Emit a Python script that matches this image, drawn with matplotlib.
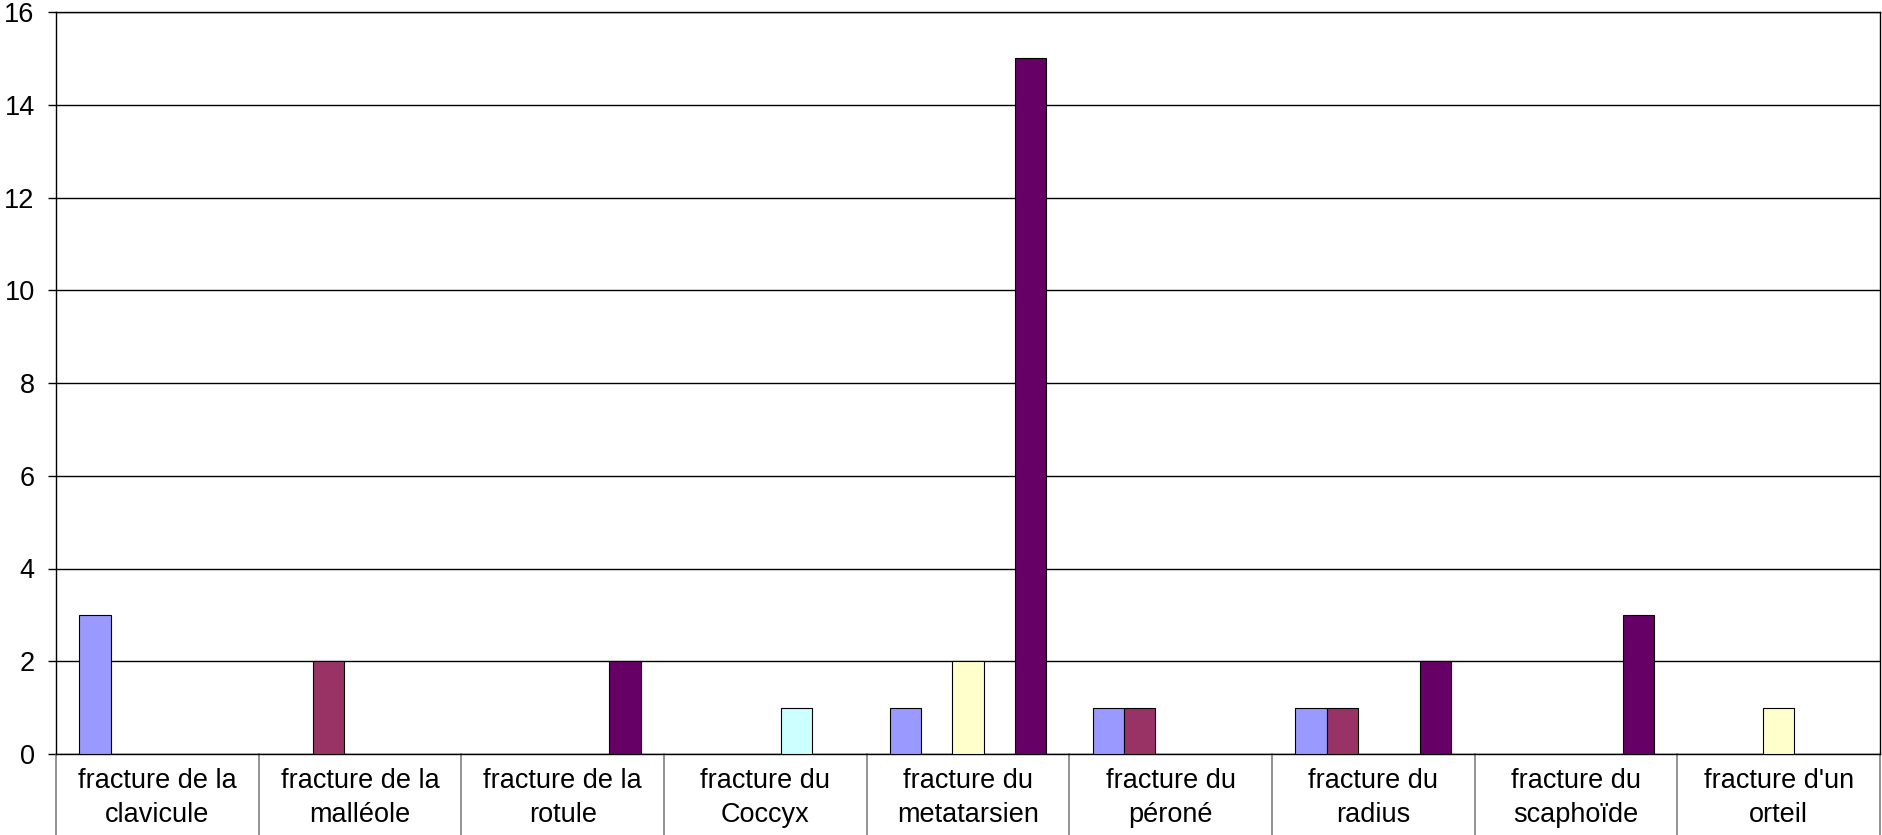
import matplotlib
matplotlib.use("Agg")
import matplotlib.pyplot as plt
import matplotlib.transforms as mtransforms
import numpy as np

plt.rcParams['font.family'] = ['Liberation Sans', 'DejaVu Sans']

categories = ["fracture de la\nclavicule", "fracture de la\nmalléole", "fracture de la\nrotule",
              "fracture du\nCoccyx", "fracture du\nmetatarsien", "fracture du\npéroné",
              "fracture du\nradius", "fracture du\nscaphoïde", "fracture d'un\norteil"]
series_1 = [3, 0, 0, 0, 1, 1, 1, 0, 0]
series_2 = [0, 2, 0, 0, 0, 1, 1, 0, 0]
series_3 = [0, 0, 0, 0, 2, 0, 0, 0, 1]
series_4 = [0, 0, 0, 1, 0, 0, 0, 0, 0]
series_5 = [0, 0, 2, 0, 15, 0, 2, 3, 0]
series = [series_1, series_2, series_3, series_4, series_5]
colors = ["#9999FF", "#993366", "#FFFFCC", "#CCFFFF", "#660066"]
yticks = [0, 2, 4, 6, 8, 10, 12, 14, 16]

W, H = 1883, 835
fig = plt.figure(figsize=(W / 100, H / 100), dpi=100)
left, right, top, bottom = 56, 1880, 12, 754
ax = fig.add_axes([left / W, 1 - bottom / H, (right - left) / W, (bottom - top) / H])

n = len(categories)
x = np.arange(n)
bw = 1 / 6.5
for i, (vals, c) in enumerate(zip(series, colors)):
    v = np.array(vals, dtype=float)
    v[v == 0] = np.nan
    ax.bar(x + (i - 2) * bw, v, width=bw, color=c, edgecolor='black', linewidth=0.8, zorder=3)

ax.set_xlim(-0.5, n - 0.5)
ax.set_ylim(0, 16)
ax.set_yticks(yticks)
ax.set_yticklabels([str(t) for t in yticks], fontsize=19.5)
ax.tick_params(axis='y', length=5.8, width=1, direction='out', pad=9.5, color='black')
ax.set_xticks([])
ax.grid(axis='y', color='black', linewidth=1, zorder=1)
for s in ax.spines.values():
    s.set_color('black')
    s.set_linewidth(1)

trans = mtransforms.blended_transform_factory(ax.transData, ax.transAxes)
ybot = (bottom - H) / (bottom - top)
for b in np.arange(-0.5, n, 1.0):
    ax.plot([b, b], [0, ybot], transform=trans, color='#808080', linewidth=1.2, clip_on=False)
ylab = (bottom - 798) / (bottom - top)
for xi, lab in zip(x, categories):
    ax.text(xi, ylab, lab, transform=trans, ha='center', va='center', fontsize=19.5,
            linespacing=1.45)

fig.savefig("out.png", dpi=100)
